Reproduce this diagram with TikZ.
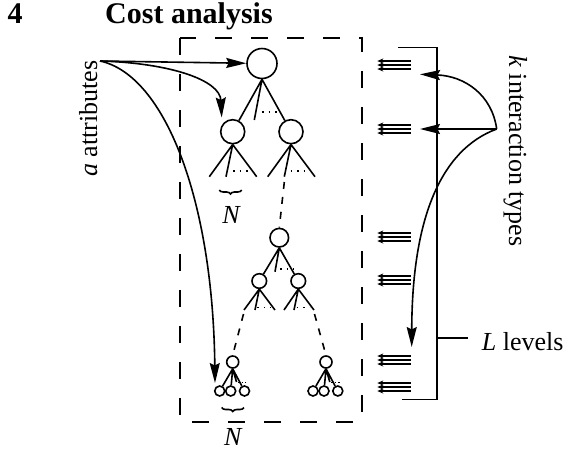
\documentclass[tikz,border=0pt]{standalone}
\usepackage{fontspec}
\setmainfont{Liberation Serif}
\usetikzlibrary{arrows.meta,decorations.pathreplacing}

% three stacked small arrows pointing left, centred on a given height
\newcommand\triplearrow[1]{%
  \foreach \dy in {-4,0,4}
    \draw[trip] (410.7,{#1+\dy}) -- (377.3,{#1+\dy});}

\begin{document}
\begin{tikzpicture}[x=1pt,y=-1pt,
  every node/.style={font=\fontsize{26}{30}\selectfont},
  ln/.style={line width=1.6pt},
  nd/.style={circle,draw,line width=1.6pt,inner sep=0pt},
  dts/.style={line width=1.5pt,dash pattern=on 1.5pt off 5pt},
  sdts/.style={line width=1.3pt,dash pattern=on 1.3pt off 2.2pt},
  dsh/.style={line width=1.6pt,dash pattern=on 7pt off 8pt},
  dbox/.style={line width=1.6pt,dash pattern=on 17pt off 19pt},
  brc/.style={line width=1.6pt,decorate,decoration={brace,amplitude=4pt}},
  barr/.style={line width=1.6pt,-{Stealth[length=20pt,width=10pt,inset=2.5pt]}},
  trip/.style={line width=1.3pt,-{Stealth[length=6pt,width=5pt]}}]

\useasboundingbox (0,0) rectangle (566,451);

% heading
\node[anchor=base west,inner sep=0pt] (num) at (7.5,23.5) {\fontsize{30}{34}\selectfont\bfseries 4};
\node[anchor=base west,inner sep=0pt] (title) at (105,23.5) {\fontsize{30}{34}\selectfont\bfseries Cost analysis};

% dashed frame round the tree
\draw[dbox] (180,38) rectangle (362,422);

% upper part of the tree
\node[nd,minimum size=30pt] (rt) at (262,63.5) {};
\node[nd,minimum size=24pt] (ua) at (232.7,131.7) {};
\node[nd,minimum size=24pt] (ub) at (291,131.7) {};
\coordinate (um) at (254.3,120);
\draw[ln] (rt.south) -- (ua) (rt.south) -- (um) (rt.south) -- (ub);
\draw[dts] (262,112) -- (277,112);

\coordinate (ua1) at (209.3,176.7);
\coordinate (ua2) at (226,176.7);
\coordinate (ua3) at (256.7,176.7);
\draw[ln] (ua.south) -- (ua1) (ua.south) -- (ua2) (ua.south) -- (ua3);
\draw[dts] (233,171) -- (248,171);

\coordinate (ub1) at (267.7,176.7);
\coordinate (ub2) at (284.3,176.7);
\coordinate (ub3) at (315,176.7);
\draw[ln] (ub.south) -- (ub1) (ub.south) -- (ub2) (ub.south) -- (ub3);
\draw[dts] (290.7,171) -- (305.7,171);

\draw[brc] (241.7,190) -- (219.3,190);
\node (n1) at (231.7,215) {\textit{N}};

% middle part of the tree
\node[nd,minimum size=18.6pt] (m) at (279.3,237.7) {};
\node[nd,minimum size=14.6pt] (ma) at (259.3,281) {};
\node[nd,minimum size=14.6pt] (mb) at (298.3,281) {};
\coordinate (uc) at (284.3,182);
\draw[dsh] (uc) -- (m.north);
\coordinate (mm) at (275,271.7);
\draw[ln] (m.south) -- (ma) (m.south) -- (mm) (m.south) -- (mb);
\draw[dts] (280,269) -- (294,269);

\coordinate (ma1) at (244,310);
\coordinate (ma2) at (255,310);
\coordinate (ma3) at (275,310);
\draw[ln] (ma.south) -- (ma1) (ma.south) -- (ma2) (ma.south) -- (ma3);
\draw[dts] (257.3,307.3) -- (271.3,307.3);

\coordinate (mb1) at (284,310);
\coordinate (mb2) at (294,310);
\coordinate (mb3) at (314,310);
\draw[ln] (mb.south) -- (mb1) (mb.south) -- (mb2) (mb.south) -- (mb3);
\draw[dts] (296.7,307.3) -- (309.7,307.3);

% lowest level
\node[nd,minimum size=12pt] (ba) at (232.7,362) {};
\node[nd,minimum size=10pt] (ba1) at (219.7,391) {};
\node[nd,minimum size=10pt] (ba2) at (230.7,391) {};
\node[nd,minimum size=10pt] (ba3) at (244.5,391) {};
\coordinate (bac) at (236.5,382);
\draw[ln] (ba.south) -- (ba1) (ba.south) -- (ba2) (ba.south) -- (bac) (ba.south) -- (ba3);
\draw[sdts] (238,382.5) -- (247,382.5);

\node[nd,minimum size=12pt] (bb) at (326,362) {};
\node[nd,minimum size=10pt] (bb1) at (313,391) {};
\node[nd,minimum size=10pt] (bb2) at (324,391) {};
\node[nd,minimum size=10pt] (bb3) at (337.8,391) {};
\coordinate (bbc) at (329.8,382);
\draw[ln] (bb.south) -- (bb1) (bb.south) -- (bb2) (bb.south) -- (bbc) (bb.south) -- (bb3);
\draw[sdts] (331.3,382.5) -- (340.3,382.5);

\coordinate (da) at (243.5,314);
\coordinate (db) at (314.5,314);
\draw[dsh] (da) -- (ba.north);
\draw[dsh] (db) -- (bb.north);

\draw[brc] (244,407.5) -- (221.7,407.5);
\node (n2) at (233.3,437.3) {\textit{N}};

% attributes and their arrows
\node[rotate=90,anchor=base,inner sep=0pt] (attr) at (97,118.5) {\textit{a} attributes};
\coordinate (A) at (100,61);
\coordinate (ta) at (221.7,117.5);
\coordinate (tb) at (215,383);
\draw[barr] (A) -- (rt);
\draw[barr] (A) .. controls (170,63) and (220,80) .. (ta);
\draw[barr] (A) .. controls (165,75) and (213,200) .. (tb);

% interaction types at each level
\triplearrow{65}
\triplearrow{129}
\triplearrow{237}
\triplearrow{280}
\triplearrow{360}
\triplearrow{387}

% bracket spanning the levels
\draw[ln] (398.3,47.3) -- (436.7,47.3) -- (436.7,399.3) -- (401.7,399.3);
\coordinate (lt) at (436.7,337.7);
\node[anchor=base west,inner sep=0pt] (lev) at (481.7,350) {\textit{L} levels};
\draw[ln] (lt) -- (468.3,337.7);

\node[rotate=-90,anchor=base,inner sep=0pt] (kint) at (509,151) {\textit{k} interaction types};
\coordinate (K) at (496.7,129);
\coordinate (k1) at (420,74.3);
\coordinate (k2) at (420,129);
\coordinate (k3) at (411.7,347);
\draw[barr] (K) .. controls (492,95) and (465,76) .. (k1);
\draw[barr] (K) -- (k2);
\draw[barr] (K) .. controls (440,150) and (412,220) .. (k3);
\end{tikzpicture}
\end{document}
